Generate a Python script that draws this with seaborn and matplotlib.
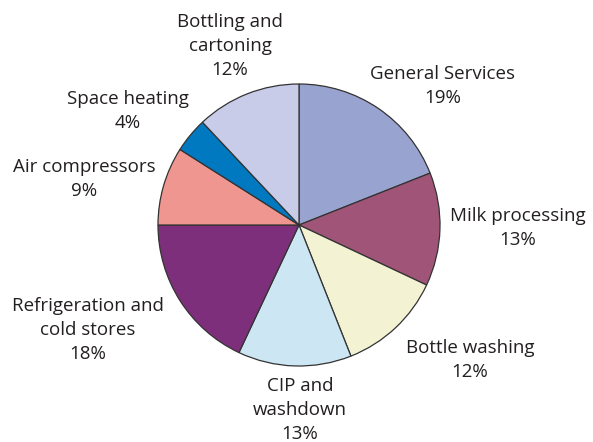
import matplotlib
matplotlib.use("Agg")
import matplotlib.pyplot as plt
import seaborn as sns

categories = ["General Services", "Milk processing", "Bottle washing", "CIP and\nwashdown",
              "Refrigeration and\ncold stores", "Air compressors", "Space heating",
              "Bottling and\ncartoning"]
values = [19, 13, 12, 13, 18, 9, 4, 12]
colors = ["#99A3D0", "#A05578", "#F3F2D2", "#CCE7F3", "#7E2F7B", "#EF9690", "#0079C1", "#C9CCE8"]
# label centre positions in image pixels (x, y of middle of text block)
label_pos = [(443, 86), (518, 228), (470, 360), (300, 410), (88, 330), (84, 179), (128, 111), (230, 46)]

sns.set_theme(style="white")
plt.rcParams["font.family"] = ["Open Sans", "DejaVu Sans"]

W, H = 593, 442
fig = plt.figure(figsize=(W / 100, H / 100), dpi=100)
ax = fig.add_axes([0, 0, 1, 1])

ax.pie(values, colors=colors, startangle=90, counterclock=False,
       center=(299, H - 225), radius=141, frame=True,
       wedgeprops=dict(edgecolor="#333333", linewidth=0.9))
ax.set_xlim(0, W)
ax.set_ylim(0, H)
ax.set_aspect("equal")
ax.axis("off")

for cat, v, (x, y) in zip(categories, values, label_pos):
    ax.text(x, H - y, f"{cat}\n{v}%", ha="center", va="center", fontsize=13.5,
            color="#231F20", linespacing=1.42)

fig.savefig("out.png", dpi=100)
